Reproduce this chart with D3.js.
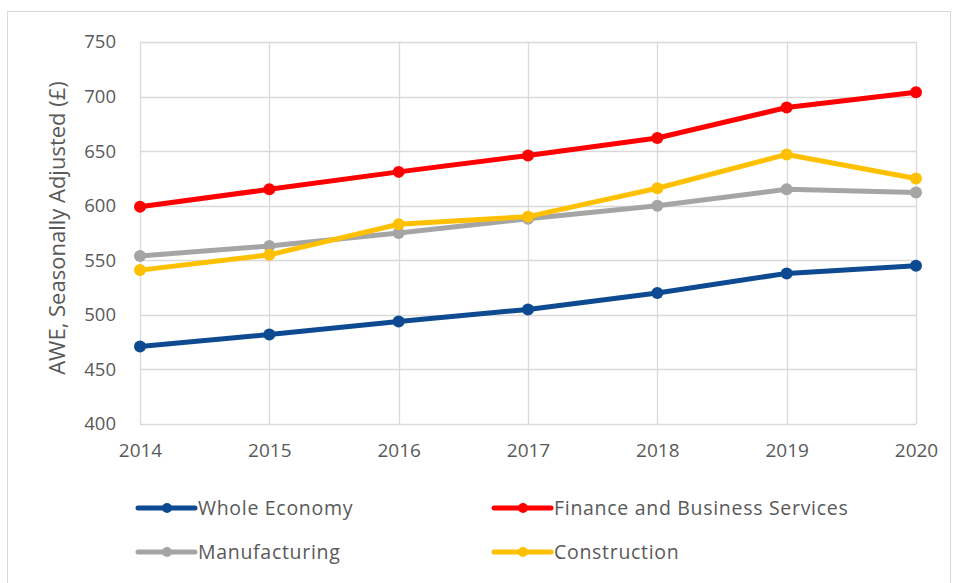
<!DOCTYPE html>
<html>
<head>
<meta charset="utf-8">
<script src="https://cdn.jsdelivr.net/npm/d3@7"></script>
<style>
  html, body { margin: 0; padding: 0; background: #fff; }
  svg { display: block; font-family: "Open Sans", "Noto Sans", sans-serif; }
</style>
</head>
<body>
<svg id="chart" width="958" height="583"></svg>
<script>
// Average weekly earnings by sector
const years = [2014, 2015, 2016, 2017, 2018, 2019, 2020];
const wholeEconomy = [471, 482, 494, 505, 520, 538, 545];
const financeBusiness = [599, 615, 631, 646, 662, 690, 704];
const manufacturing = [554, 563, 575, 588, 600, 615, 612];
const construction = [541, 555, 583, 590, 616, 647, 625];
const yTicks = [400, 450, 500, 550, 600, 650, 700, 750];
const seriesNames = ["Whole Economy", "Finance and Business Services", "Manufacturing", "Construction"];
const seriesColors = ["#0d4a91", "#ff0000", "#a5a5a5", "#ffc000"];

const series = [
  { name: seriesNames[0], values: wholeEconomy, color: seriesColors[0] },
  { name: seriesNames[1], values: financeBusiness, color: seriesColors[1] },
  { name: seriesNames[2], values: manufacturing, color: seriesColors[2] },
  { name: seriesNames[3], values: construction, color: seriesColors[3] }
];
// drawing order: manufacturing under construction, blue and red on top
const drawOrder = [2, 3, 0, 1];

const svg = d3.select("#chart");
const plot = { left: 140, right: 916, top: 42, bottom: 424 };

// outer frame
svg.append("rect")
  .attr("x", 7.5).attr("y", 11.5)
  .attr("width", 943).attr("height", 575)
  .attr("fill", "#fff").attr("stroke", "#d9d9d9").attr("stroke-width", 1);

const x = d3.scalePoint().domain(years).range([plot.left, plot.right]);
const y = d3.scaleLinear().domain([400, 750]).range([plot.bottom, plot.top]);

// gridlines
const grid = svg.append("g");
grid.selectAll("line.h").data(yTicks).join("line")
  .attr("x1", plot.left).attr("x2", plot.right)
  .attr("y1", d => Math.round(y(d)) + 0.5).attr("y2", d => Math.round(y(d)) + 0.5)
  .attr("stroke", "#d9d9d9").attr("stroke-width", 1.3);
grid.selectAll("line.v").data(years).join("line")
  .attr("y1", plot.top).attr("y2", plot.bottom)
  .attr("x1", d => Math.round(x(d)) + 0.5).attr("x2", d => Math.round(x(d)) + 0.5)
  .attr("stroke", "#d9d9d9").attr("stroke-width", 1.3);

// y axis labels
const yAxis = d3.axisLeft(y).tickValues(yTicks).tickSize(0).tickPadding(24);
svg.append("g").attr("transform", `translate(${plot.left},0)`).call(yAxis)
  .call(g => g.select(".domain").remove())
  .call(g => g.selectAll("text").attr("fill", "#595959").attr("font-size", 18.5).attr("font-family", "'Open Sans', sans-serif"));

// x axis labels
const xAxis = d3.axisBottom(x).tickSize(0).tickPadding(20).tickFormat(d3.format("d"));
svg.append("g").attr("transform", `translate(0,${plot.bottom})`).call(xAxis)
  .call(g => g.select(".domain").remove())
  .call(g => g.selectAll("text").attr("fill", "#595959").attr("font-size", 19).attr("font-family", "'Open Sans', sans-serif"));

// y axis title
svg.append("text")
  .attr("transform", `translate(65,228) rotate(-90)`)
  .attr("text-anchor", "middle")
  .attr("fill", "#595959").attr("font-size", 22)
  .text("AWE, Seasonally Adjusted (£)");

// lines and markers
const line = d3.line().x((d, i) => x(years[i])).y(d => y(d));
drawOrder.forEach(k => {
  const s = series[k];
  const g = svg.append("g");
  g.append("path").datum(s.values)
    .attr("d", line).attr("fill", "none")
    .attr("stroke", s.color).attr("stroke-width", 5)
    .attr("stroke-linejoin", "round").attr("stroke-linecap", "round");
  g.selectAll("circle").data(s.values).join("circle")
    .attr("cx", (d, i) => x(years[i])).attr("cy", d => y(d))
    .attr("r", 6).attr("fill", s.color);
});

// legend
const legendPos = [[138, 508], [494, 508], [138, 552], [494, 552]];
series.forEach((s, i) => {
  const [lx, ly] = legendPos[i];
  const g = svg.append("g").attr("transform", `translate(${lx},${ly})`);
  g.append("line").attr("x1", 0).attr("x2", 57).attr("y1", 0).attr("y2", 0)
    .attr("stroke", s.color).attr("stroke-width", 5).attr("stroke-linecap", "round");
  g.append("circle").attr("cx", 29).attr("cy", 0).attr("r", 5).attr("fill", s.color);
  g.append("text").attr("x", 60).attr("y", 0).attr("dy", "0.35em")
    .attr("fill", "#595959").attr("font-size", 19.5).attr("letter-spacing", 0.7).text(s.name);
});
</script>
</body>
</html>
